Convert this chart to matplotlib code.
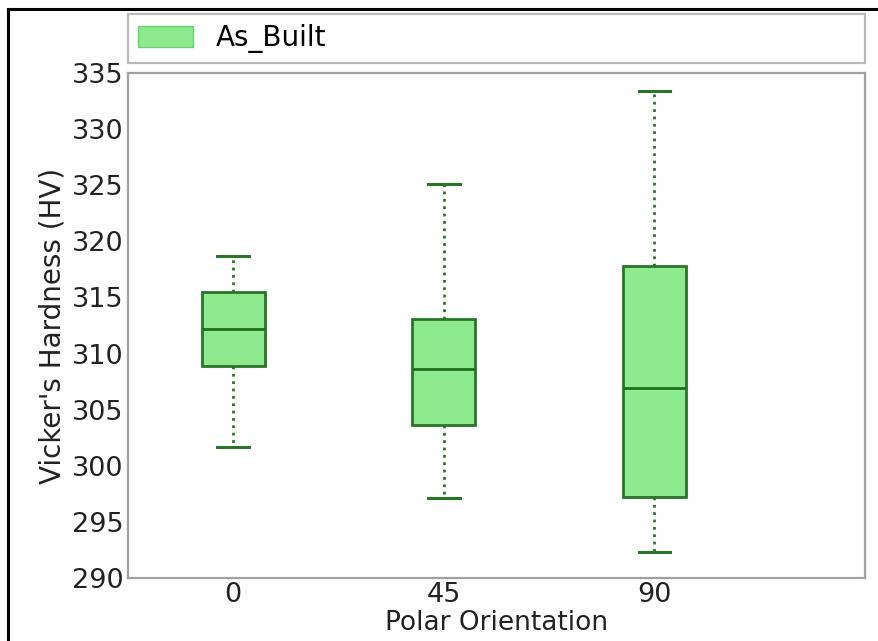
import matplotlib
matplotlib.use("Agg")
import matplotlib.pyplot as plt
from matplotlib.patches import Patch
from matplotlib.lines import Line2D

# Hardness summary per polar orientation
orientations = ["0", "45", "90"]
whisker_low = [301.7, 297.1, 292.3]
q1 = [308.9, 303.6, 297.2]
median = [312.2, 308.6, 306.9]
q3 = [315.5, 313.1, 317.8]
whisker_high = [318.7, 325.1, 333.4]

series_label = "As_Built"
fill_color = "#8eea8e"
edge_color = "#2a742a"
median_color = "#1d6f1d"

plt.rcParams["font.family"] = "DejaVu Sans"

fig = plt.figure(figsize=(8.79, 6.41), dpi=100)
ax = fig.add_axes([0.1456, 0.0983, 0.8385, 0.7878])

stats = []
for i, name in enumerate(orientations):
    stats.append(dict(label=name, whislo=whisker_low[i], q1=q1[i], med=median[i],
                      q3=q3[i], whishi=whisker_high[i], fliers=[]))

positions = list(range(1, len(orientations) + 1))
ax.bxp(stats, positions=positions, widths=0.3, patch_artist=True, showfliers=False,
       boxprops=dict(facecolor=fill_color, edgecolor=edge_color, linewidth=2.0),
       medianprops=dict(color=median_color, linewidth=2.0),
       whiskerprops=dict(color=edge_color, linewidth=2.0, linestyle=":"),
       capprops=dict(color=edge_color, linewidth=2.2))

ax.set_xlim(0.5, 4.0)
ax.set_ylim(290, 335)
ax.set_yticks(range(290, 336, 5))
ax.set_xticks(positions)
ax.set_xticklabels(orientations)
ax.tick_params(axis="both", length=0, labelsize=19.5, colors="#222222")
ax.tick_params(axis="y", pad=3)
ax.tick_params(axis="x", pad=3)

for sp in ax.spines.values():
    sp.set_color("#a0a0a0")
    sp.set_linewidth(1.6)

ax.set_xlabel("Polar Orientation", fontsize=19, color="#222222", labelpad=1)
ax.set_ylabel("Vicker's Hardness (HV)", fontsize=20, color="#222222", labelpad=4)

handle = Patch(facecolor=fill_color, edgecolor="#6fcf6f", linewidth=1.0)
leg = ax.legend([handle], [series_label], loc="lower left", mode="expand",
                bbox_to_anchor=(0, 1.02, 1, 0.093), borderaxespad=0,
                fontsize=20, frameon=True, fancybox=False,
                handlelength=2.0, handleheight=0.75, handletextpad=0.8,
                borderpad=0.35)
leg.get_frame().set_edgecolor("#a8a8a8")
leg.get_frame().set_linewidth(1.6)

# page frame lines along the top and left edges
fig.add_artist(Line2D([0.009, 1.0], [0.986, 0.986], transform=fig.transFigure,
                      color="black", linewidth=2.2))
fig.add_artist(Line2D([0.009, 0.009], [0.0, 0.986], transform=fig.transFigure,
                      color="black", linewidth=2.2))

fig.savefig("out.png", dpi=100, facecolor="white")
